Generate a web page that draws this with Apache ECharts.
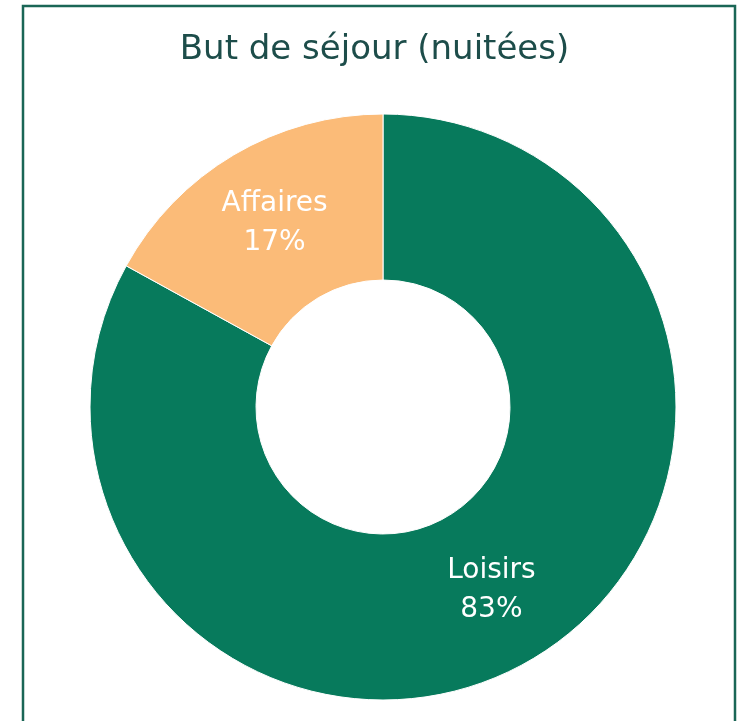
<!DOCTYPE html>
<html>
<head>
<meta charset="utf-8">
<script src="https://cdn.jsdelivr.net/npm/echarts@6/dist/echarts.min.js"></script>
<style>
  html, body { margin: 0; padding: 0; background: #fff; }
  #chart { width: 749px; height: 721px; }
</style>
</head>
<body>
<div id="chart"></div>
<script>
// 类别和数值
const categories = ['Loisirs', 'Affaires']
const shares = [83, 17]
const colors = ['#077a5c', '#fbbb78']

const chart = echarts.init(document.getElementById('chart'))

chart.setOption({
  backgroundColor: '#fff',
  animation: false,
  title: {
    text: 'But de séjour (nuitées)',
    left: 'center',
    top: 28,
    textStyle: {
      fontFamily: 'DejaVu Sans',
      fontWeight: 'normal',
      fontSize: 34,
      color: '#1d4d4a'
    }
  },
  // 外框
  graphic: [{
    type: 'rect',
    shape: { x: 23, y: 6, width: 712, height: 740 },
    style: { fill: 'none', stroke: '#1a6656', lineWidth: 2.5 },
    silent: true
  }],
  series: [{
    type: 'pie',
    center: [383, 407],
    radius: [127, 293],
    startAngle: 90,
    clockwise: true,
    itemStyle: { borderColor: '#fff', borderWidth: 1 },
    label: {
      show: true,
      position: 'inside',
      color: '#fff',
      fontFamily: 'DejaVu Sans',
      fontSize: 28,
      lineHeight: 39,
      formatter: p => p.name + '\n' + p.value + '%'
    },
    labelLine: { show: false },
    data: categories.map((name, i) => ({
      name,
      value: shares[i],
      itemStyle: { color: colors[i] }
    }))
  }]
})
</script>
</body>
</html>
